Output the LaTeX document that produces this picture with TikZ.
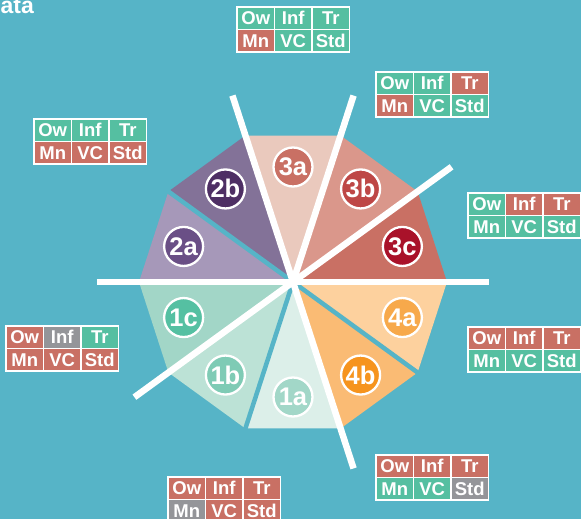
\documentclass[tikz,border=0pt]{standalone}
\usepackage{fontspec}
\setmainfont{Liberation Sans}
\usepackage{tikz}
\usetikzlibrary{positioning}
\definecolor{bgblue}{HTML}{56B4C7}
\definecolor{tabgreen}{HTML}{55BFA1}
\definecolor{tabred}{HTML}{C97064}
\definecolor{tabgray}{HTML}{949599}
\definecolor{seg3a}{HTML}{EAC9BD}
\definecolor{dot3a}{HTML}{C97064}
\definecolor{seg3b}{HTML}{DA978B}
\definecolor{dot3b}{HTML}{BE4746}
\definecolor{seg3c}{HTML}{C97064}
\definecolor{dot3c}{HTML}{A9122A}
\definecolor{seg4a}{HTML}{FDD19E}
\definecolor{dot4a}{HTML}{F7A94B}
\definecolor{seg4b}{HTML}{FABB74}
\definecolor{dot4b}{HTML}{F6941E}
\definecolor{seg1a}{HTML}{DCEFE9}
\definecolor{dot1a}{HTML}{A2D7C8}
\definecolor{seg1b}{HTML}{BCE2D6}
\definecolor{dot1b}{HTML}{7FCBB5}
\definecolor{seg1c}{HTML}{A2D6C7}
\definecolor{dot1c}{HTML}{55C0A2}
\definecolor{seg2a}{HTML}{A698B9}
\definecolor{dot2a}{HTML}{6A4F86}
\definecolor{seg2b}{HTML}{837298}
\definecolor{dot2b}{HTML}{4E2F64}
\newcommand\WheelR{154}
\newcommand\DotR{115}
\newcommand\CutR{196}
\tikzset{
  cell/.style={
    shape = rectangle,
    draw = white,
    line width = 1.5pt,
    minimum width = 37.5pt,
    minimum height = 22.5pt,
    inner sep = 0pt,
    outer sep = 0pt,
    text = white,
    text height = 13pt,
    text depth = 0pt,
    font = \fontsize{18.5}{18.5}\selectfont\bfseries
  },
}
\tikzset{
  dot/.style={
    shape = circle,
    draw = white,
    line width = 2.3pt,
    minimum size = 39pt,
    inner sep = 0pt,
    text = white,
    text height = 18pt,
    text depth = 0pt,
    font = \fontsize{25.5}{25.5}\selectfont\bfseries
  },
  cut/.style={
    white,
    line width = 6.5pt
  },
  gap/.style={
    bgblue,
    line width = 4.5pt
  }
}
% one 2x3 score card, #2 = top left corner
\newcommand{\scorecard}[8]{%
  \node[cell, fill=#3, anchor=north west] (#1ow) at (#2) {Ow};
  \node[cell, fill=#4, right=0pt of #1ow] (#1inf) {Inf};
  \node[cell, fill=#5, right=0pt of #1inf] (#1tr) {Tr};
  \node[cell, fill=#6, below=0pt of #1ow] (#1mn) {Mn};
  \node[cell, fill=#7, right=0pt of #1mn] (#1vc) {VC};
  \node[cell, fill=#8, right=0pt of #1vc] (#1std) {Std};
}

\begin{document}
\begin{tikzpicture}[x=1pt,y=1pt]
    \useasboundingbox (-293,-237) rectangle (288,282);
    \fill[bgblue] (-293,-237) rectangle (288,282);
    \coordinate (hub) at (0,0);

    \node[anchor=base east, text=white, font=\fontsize{23}{23}\selectfont\bfseries, inner sep=0pt] (title) at (-259,268) {ata};

    % wheel
    \foreach \ang/\lab in {90/3a,54/3b,18/3c,-18/4a,-54/4b,-90/1a,-126/1b,-162/1c,162/2a,126/2b}
        \fill[seg\lab] (hub) -- ({\ang-18}:\WheelR) -- ({\ang+18}:\WheelR) -- cycle;

    \foreach \a in {144,-36,-108}
        \draw[gap] (hub) -- (\a:160);

    \coordinate (cutW) at (180:\CutR);
    \coordinate (cutE) at (0:\CutR);
    \draw[cut] (cutW) -- (cutE);
    \foreach \a in {108,72,36,216,288}
        \draw[cut] (hub) -- (\a:\CutR);

    \foreach \ang/\lab in {90/3a,54/3b,18/3c,-18/4a,-54/4b,-90/1a,-126/1b,-162/1c,162/2a,126/2b}
        \node[dot, fill=dot\lab] (d\lab) at (\ang:\DotR) {\lab};

    % score cards
    \scorecard{c3a}{-56,275}{tabgreen}{tabgreen}{tabgreen}{tabred}{tabgreen}{tabgreen}
    \scorecard{c3b}{83,210}{tabgreen}{tabgreen}{tabred}{tabred}{tabgreen}{tabgreen}
    \scorecard{c2b}{-259,163}{tabgreen}{tabgreen}{tabgreen}{tabred}{tabred}{tabred}
    \scorecard{c3c}{175,89}{tabgreen}{tabred}{tabred}{tabgreen}{tabgreen}{tabgreen}
    \scorecard{c1c}{-287,-44}{tabred}{tabgray}{tabgreen}{tabred}{tabred}{tabred}
    \scorecard{c4a}{175,-45}{tabred}{tabred}{tabred}{tabgreen}{tabgreen}{tabgreen}
    \scorecard{c4b}{83,-173}{tabred}{tabred}{tabred}{tabgreen}{tabgreen}{tabgray}
    \scorecard{c1a}{-125,-195}{tabred}{tabred}{tabred}{tabgray}{tabred}{tabred}
\end{tikzpicture}
\end{document}
